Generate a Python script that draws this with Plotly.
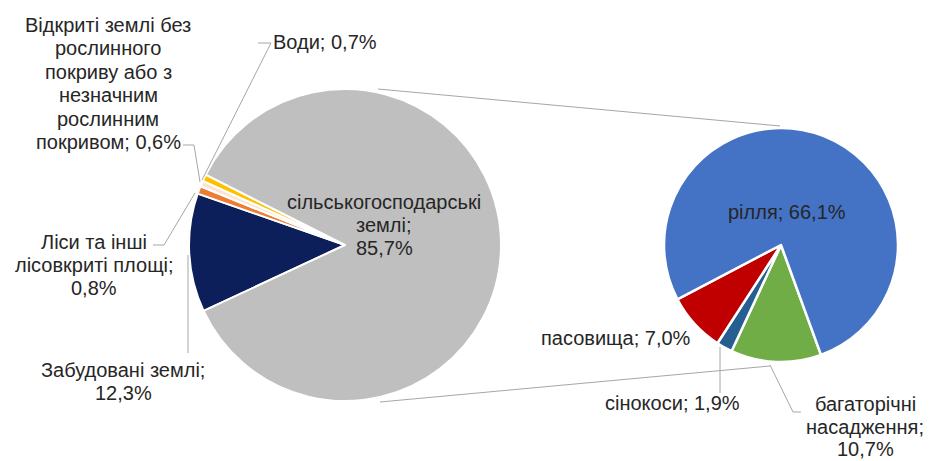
import plotly.graph_objects as go

W, H = 934, 461

# Main pie data (clockwise order starting at the navy slice)
main_labels = ["Забудовані землі;", "Ліси та інші<br>лісовкриті площі;",
               "Відкриті землі без<br>рослинного<br>покриву або з<br>незначним<br>рослинним<br>покривом;",
               "Води;", "сільськогосподарські<br>землі;"]
main_values = [12.3, 0.8, 0.6, 0.7, 85.7]
main_colors = ["#0C1F5B", "#EC7D32", "#FBE4D5", "#FFC000", "#BFBFBF"]

# Secondary pie data (breakdown of agricultural land)
sub_labels = ["багаторічні<br>насадження;", "сінокоси;", "пасовища;", "рілля;"]
sub_values = [10.7, 1.9, 7.0, 66.1]
sub_colors = ["#70AD47", "#255E91", "#C00000", "#4472C4"]


def fmt(v):
    return f"{v:.1f}".replace(".", ",") + "%"


def px(x, y):
    return x / W, 1 - y / H


def dom(cx, cy, r):
    return dict(x=[(cx - r) / W, (cx + r) / W], y=[1 - (cy + r) / H, 1 - (cy - r) / H])


fig = go.Figure()
fig.add_trace(go.Pie(
    values=main_values, labels=main_labels, sort=False, direction="clockwise",
    rotation=245, textinfo="none", hoverinfo="label+value",
    marker=dict(colors=main_colors, line=dict(color="white", width=2)),
    domain=dom(345, 245, 156), showlegend=False,
))
fig.add_trace(go.Pie(
    values=sub_values, labels=sub_labels, sort=False, direction="clockwise",
    rotation=160, textinfo="none", hoverinfo="label+value",
    marker=dict(colors=sub_colors, line=dict(color="white", width=2.5)),
    domain=dom(781, 245, 117), showlegend=False,
))

font = dict(family="Liberation Sans, Arial, sans-serif", size=20, color="#262626")

# label placement: centre x, first-line y, line spacing, separator before the value
main_pos = [(123, 370, 23.2), (94, 242, 23.2), (108, 25, 23.4), (325, 42, 23.2), (384, 202, 23.2)]
main_sep = ["<br>", "<br>", " ", " ", "<br>"]
sub_pos = [(865, 404, 22.5), (672, 403, 23.2), (616, 338, 23.2), (787, 212, 23.2)]
sub_sep = ["<br>", " ", " ", " "]

ann = []


def add_label(lab, v, pos, sep):
    text = lab + sep + fmt(v)
    x, y0, step = pos
    for i, line in enumerate(text.split("<br>")):
        ax, ay = px(x, y0 + i * step)
        ann.append(dict(x=ax, y=ay, xref="paper", yref="paper", text=line,
                        showarrow=False, font=font, xanchor="center", yanchor="middle"))


for lab, v, pos, s in zip(main_labels, main_values, main_pos, main_sep):
    add_label(lab, v, pos, s)
for lab, v, pos, s in zip(sub_labels, sub_values, sub_pos, sub_sep):
    add_label(lab, v, pos, s)


def path(points):
    d = ""
    for i, (x, y) in enumerate(points):
        X, Y = px(x, y)
        d += ("M" if i == 0 else "L") + f"{X},{Y} "
    return d


lines = [
    [(378, 89), (780, 126)],
    [(380, 402), (770, 366)],
    [(183, 145), (194, 145), (200, 182)],
    [(258, 43), (271, 43), (202, 180)],
    [(153, 245), (164, 245), (195, 193)],
    [(188, 353), (188, 255)],
    [(720, 393), (720, 347)],
    [(801, 412), (793, 412), (770, 365)],
]
shapes = [dict(type="path", xref="paper", yref="paper", path=path(p),
               line=dict(color="#A6A6A6", width=1)) for p in lines]

fig.update_layout(
    width=W, height=H, margin=dict(l=0, r=0, t=0, b=0),
    paper_bgcolor="white", plot_bgcolor="white",
    annotations=ann, shapes=shapes, showlegend=False,
)
fig.write_html("out.html", config={"displayModeBar": False},
               post_script="document.body.style.margin='0';")
